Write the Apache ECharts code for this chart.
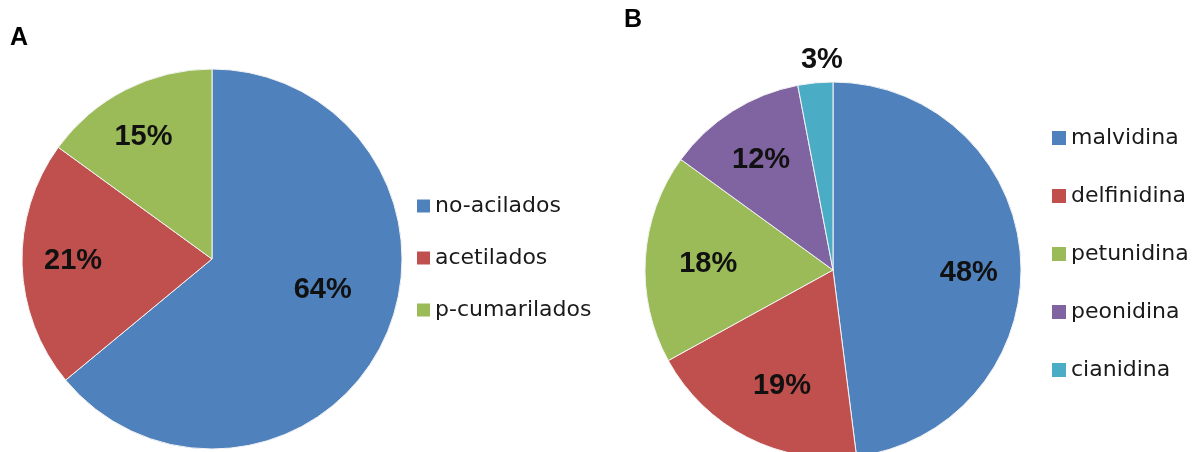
<!DOCTYPE html>
<html>
<head>
<meta charset="utf-8">
<script src="https://cdn.jsdelivr.net/npm/echarts@6/dist/echarts.min.js"></script>
<style>
html,body{margin:0;padding:0;background:#fff;}
#chart{width:1194px;height:452px;}
</style>
</head>
<body>
<div id="chart"></div>
<script>
// ---- data ----
const catsA = ['no-acilados', 'acetilados', 'p-cumarilados'];
const valsA = [64, 21, 15];
const catsB = ['malvidina', 'delfinidina', 'petunidina', 'peonidina', 'cianidina'];
const valsB = [48, 19, 18, 12, 3];

// ---- styling ----
const colorsA = ['#4F81BD', '#C0504D', '#9BBB59'];
const colorsB = ['#4F81BD', '#C0504D', '#9BBB59', '#8064A2', '#4BACC6'];
const labelShiftA = [[22, -11], [-41, -1], [-24, -35]];
const labelShiftB = [[39, 9], [-7, 30], [-28, 0], [-20, -28], [-2, -113]];

const chart = echarts.init(document.getElementById('chart'), null, {renderer: 'canvas'});

function pieData(cats, vals, colors) {
  return cats.map((c, i) => ({name: c, value: vals[i], itemStyle: {color: colors[i]}}));
}

const labelStyle = {
  show: true,
  position: 'inside',
  formatter: p => p.value + '%',
  fontFamily: 'Liberation Sans, Arial, sans-serif',
  fontWeight: 'bold',
  fontSize: 29,
  color: '#111'
};

const legendText = {
  fontFamily: 'DejaVu Sans, sans-serif',
  fontSize: 22,
  color: '#1a1a1a',
  lineHeight: 22
};

const titleText = {fontFamily: 'Liberation Sans, Arial, sans-serif', fontWeight: 'bold', fontSize: 25, color: '#000'};

chart.setOption({
  animation: false,
  backgroundColor: '#fff',
  title: [
    {text: 'A', left: 10, top: 26, padding: 0, textStyle: titleText},
    {text: 'B', left: 624, top: 8, padding: 0, textStyle: titleText}
  ],
  legend: [
    {
      data: catsA,
      orient: 'vertical',
      left: 417, top: 195, padding: 0,
      itemWidth: 13, itemHeight: 13, itemGap: 30,
      icon: 'rect',
      itemStyle: {borderWidth: 0},
      textStyle: legendText
    },
    {
      data: catsB,
      orient: 'vertical',
      left: 1052, top: 127, padding: 0,
      itemWidth: 14, itemHeight: 14, itemGap: 36,
      icon: 'rect',
      itemStyle: {borderWidth: 0},
      textStyle: legendText
    }
  ],
  series: [
    {
      type: 'pie',
      center: [212, 259],
      radius: [0, 190],
      startAngle: 90,
      clockwise: true,
      silent: true,
      itemStyle: {borderColor: '#f4f4f4', borderWidth: 1},
      label: labelStyle,
      labelLine: {show: false},
      labelLayout: p => ({dx: labelShiftA[p.dataIndex][0], dy: labelShiftA[p.dataIndex][1]}),
      data: pieData(catsA, valsA, colorsA)
    },
    {
      type: 'pie',
      center: [833, 270],
      radius: [0, 188],
      startAngle: 90,
      clockwise: true,
      silent: true,
      itemStyle: {borderColor: '#f4f4f4', borderWidth: 1},
      label: labelStyle,
      labelLine: {show: false},
      labelLayout: p => ({dx: labelShiftB[p.dataIndex][0], dy: labelShiftB[p.dataIndex][1]}),
      data: pieData(catsB, valsB, colorsB)
    }
  ]
});
</script>
</body>
</html>
